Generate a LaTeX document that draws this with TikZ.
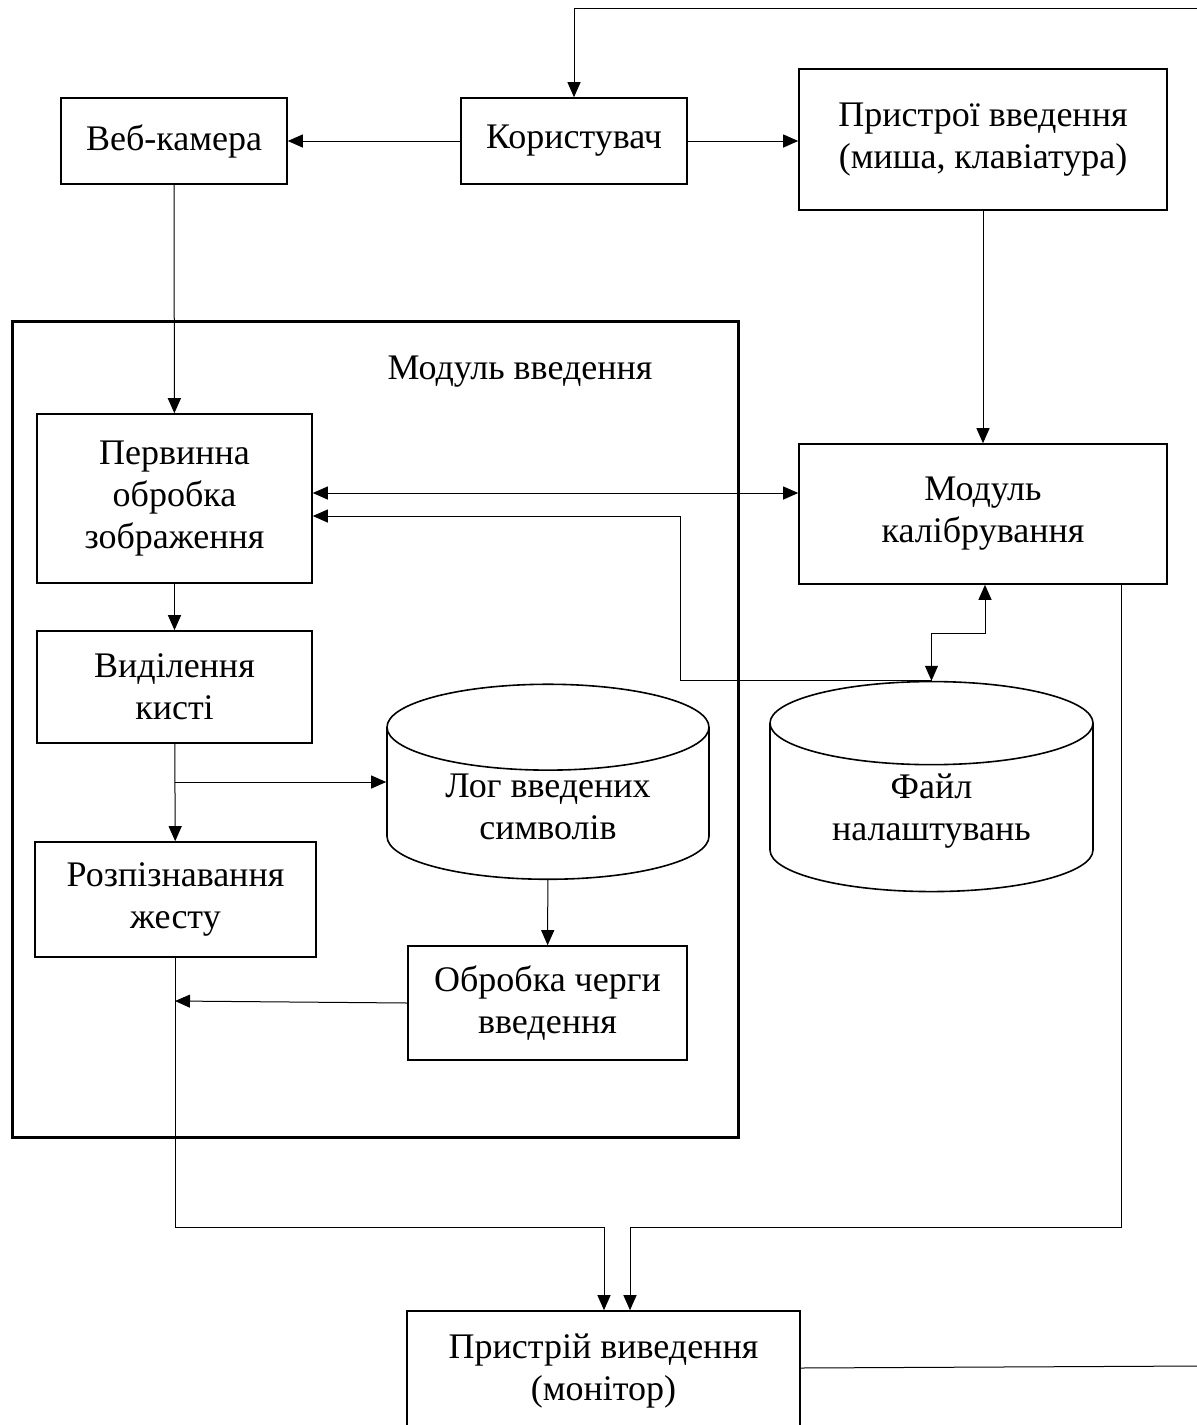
\documentclass[tikz,border=0pt]{standalone}
\usepackage{fontspec}
\setmainfont{Liberation Serif}
\usepackage{tikz}
\usetikzlibrary{arrows.meta,shapes.geometric,positioning}
\tikzset{FDBlock/.style={rectangle,draw,line width=1.6pt,align=center,inner sep=2pt,font=\fontsize{36}{42}\selectfont}}
\tikzset{FDStore/.style={cylinder,draw,line width=1.6pt,shape border rotate=90,shape aspect=0.41,align=center,inner sep=2pt,font=\fontsize{36}{42}\selectfont}}
\tikzset{FDFlow/.style={line width=1pt,-{Triangle[length=15pt,width=13pt]}}}
\tikzset{FDBoth/.style={line width=1pt,{Triangle[length=15pt,width=13pt]}-{Triangle[length=15pt,width=13pt]}}}

\begin{document}
\begin{tikzpicture}[x=1pt,y=-1pt]
\useasboundingbox (0,0) rectangle (1197,1425);
\node (cam) at (174,141) [FDBlock,minimum width=226pt,minimum height=86pt] {Веб-камера};
\node (user) at (574,141) [FDBlock,minimum width=226pt,minimum height=86pt] {Користувач};
\node (indev) at (983,139.5) [FDBlock,minimum width=368pt,minimum height=141pt] {Пристрої введення\\(миша, клавіатура)};
\draw [line width=3pt] (12,321) rectangle (738,1137);
\node (modname) at (520,372) [font=\fontsize{36}{42}\selectfont] {Модуль введення};
\node (prep) at (174.5,498.5) [FDBlock,minimum width=275pt,minimum height=169pt] {Первинна\\обробка\\зображення};
\node (calib) at (983,514) [FDBlock,minimum width=368pt,minimum height=140pt] {Модуль\\калібрування};
\node (hand) at (174.5,687) [FDBlock,minimum width=275pt,minimum height=112pt] {Виділення\\кисті};
\node (gest) at (175.5,899.5) [FDBlock,minimum width=281pt,minimum height=115pt] {Розпізнавання\\жесту};
\node (log) at (548,807) [FDStore,minimum width=322pt,minimum height=195pt] {Лог введених\\символів};
\node (cfg) at (931.5,811) [FDStore,minimum width=323pt,minimum height=210pt] {Файл\\налаштувань};
\node (queue) at (547.5,1003) [FDBlock,minimum width=279pt,minimum height=114pt] {Обробка черги\\введення};
\node (mon) at (603.5,1371) [FDBlock,minimum width=393pt,minimum height=120pt] {Пристрій виведення\\(монітор)};
\coordinate (edgetop) at (1200,8);
\coordinate (edgebot) at (1200,1366);
\draw [FDFlow] (edgetop) -| (user);
\draw [FDFlow] (user.west |- 0,141) -- (cam.east |- 0,141);
\draw [FDFlow] (user.east |- 0,141) -- (indev.west |- 0,141);
\draw [FDFlow] (cam) -- (prep);
\draw [FDFlow] (indev) -- (calib);
\draw [FDBoth] (prep.east |- 0,493) -- (calib.west |- 0,493);
\draw [FDFlow] (cfg.north) -| (680,516) -- (prep.east |- 0,516);
\draw [FDBoth] (cfg.north) |- (985,633) -- (calib.south -| 985,0);
\draw [FDFlow] (prep) -- (hand);
\draw [FDFlow] (hand) -- (gest);
\draw [FDFlow] (175,782) -- (log.west |- 0,782);
\draw [FDFlow] (log) -- (queue);
\draw [FDFlow] (queue.west) -- (175,1001);
\draw [FDFlow] (gest.south) |- (604,1227) -- (mon.north -| 604,0);
\draw [FDFlow] (calib.south -| 1121,0) |- (630,1227) -- (mon.north -| 630,0);
\draw [line width=1pt] (mon.east |- 0,1368) -- (edgebot);
\end{tikzpicture}
\end{document}
